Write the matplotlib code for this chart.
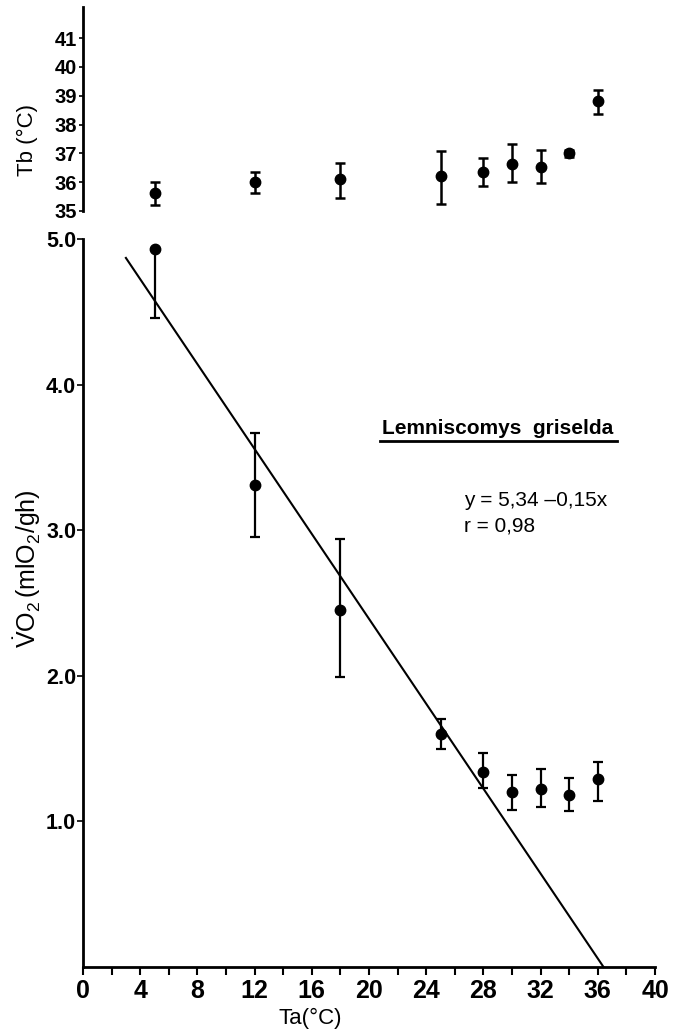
import matplotlib
matplotlib.use("Agg")
import matplotlib.pyplot as plt
import numpy as np

# ---- data ----
ta = [5, 12, 18, 25, 28, 30, 32, 34, 36]

tb = [35.63, 36.02, 36.10, 36.22, 36.36, 36.63, 36.54, 37.00, 38.83]
tb_low = [35.22, 35.61, 35.44, 35.24, 35.87, 36.02, 35.98, 36.88, 38.36]
tb_high = [36.00, 36.36, 36.65, 37.08, 36.84, 37.32, 37.10, 37.12, 39.20]

vo2 = [4.93, 3.31, 2.45, 1.60, 1.34, 1.20, 1.22, 1.18, 1.29]
vo2_low = [4.46, 2.95, 1.99, 1.50, 1.23, 1.08, 1.10, 1.07, 1.14]
vo2_high = [4.93, 3.67, 2.94, 1.70, 1.47, 1.32, 1.36, 1.30, 1.41]

line_x = [3.0, 36.4]
line_y = [4.87, 0.0]

x_ticks = list(range(0, 41, 2))
x_labels = [str(t) if t % 4 == 0 else "" for t in x_ticks]
tb_ticks = [35, 36, 37, 38, 39, 40, 41]
vo2_ticks = [1.0, 2.0, 3.0, 4.0, 5.0]
vo2_labels = ["1.0", "2.0", "3.0", "4.0", "5.0"]

FAM = ["Liberation Sans", "DejaVu Sans"]
plt.rcParams["font.family"] = FAM
plt.rcParams["mathtext.fontset"] = "custom"
plt.rcParams["mathtext.rm"] = "Liberation Sans"
plt.rcParams["mathtext.it"] = "Liberation Sans"
plt.rcParams["mathtext.bf"] = "Liberation Sans:bold"

W, H = 679, 1029
fig = plt.figure(figsize=(W / 100, H / 100), dpi=100)

left = 83 / W
width = (655 - 83) / W
ax_top = fig.add_axes([left, 1 - 211 / H, width, (211 - 7) / H])
ax = fig.add_axes([left, 1 - 967 / H, width, (967 - 239) / H])

# ---- top panel: Tb ----
tb_arr = np.array(tb)
ax_top.errorbar(ta, tb, yerr=[tb_arr - np.array(tb_low), np.array(tb_high) - tb_arr],
                fmt="o", color="black", markersize=7.5, elinewidth=1.8,
                capsize=3.5, capthick=1.8)
ax_top.set_xlim(0, 40)
ax_top.set_ylim(35, 42.08)
ax_top.set_yticks(tb_ticks)
ax_top.set_yticklabels([str(t) for t in tb_ticks], fontsize=14.5, fontweight="bold")
ax_top.set_xticks([])
for s in ["top", "right", "bottom"]:
    ax_top.spines[s].set_visible(False)
ax_top.spines["left"].set_linewidth(2.0)
ax_top.tick_params(axis="y", direction="out", length=3, width=1.2, pad=1)
ax_top.set_ylabel("Tb (°C)", fontsize=16)
ax_top.yaxis.set_label_coords(-0.078, (211 - 140) / 204)

# ---- bottom panel: VO2 ----
v_arr = np.array(vo2)
ax.errorbar(ta, vo2, yerr=[v_arr - np.array(vo2_low), np.array(vo2_high) - v_arr],
            fmt="o", color="black", markersize=7.5, elinewidth=1.6,
            capsize=3.5, capthick=1.6, zorder=3)
ax.plot(line_x, line_y, color="black", linewidth=1.5, clip_on=False)

ax.set_xlim(0, 40)
ax.set_ylim(0, 5.0)
ax.set_xticks(x_ticks)
ax.set_xticklabels(x_labels, fontsize=18, fontweight="bold")
ax.set_yticks(vo2_ticks)
ax.set_yticklabels(vo2_labels, fontsize=15.5, fontweight="bold")
for s in ["top", "right"]:
    ax.spines[s].set_visible(False)
ax.spines["left"].set_linewidth(2.0)
ax.spines["bottom"].set_linewidth(2.0)
ax.tick_params(axis="x", direction="out", length=6, width=1.5, pad=3)
ax.tick_params(axis="y", direction="out", length=4, width=1.2, pad=1)

ax.set_xlabel("Ta(°C)", fontsize=16)
ax.xaxis.set_label_coords((310 - 83) / 572, -0.056)
ax.set_ylabel(r"$\dot{\mathrm{V}}\mathrm{O_2\,(mlO_2/gh)}$", fontsize=18)
ax.yaxis.set_label_coords(-0.070, (967 - 569) / 728)

# ---- annotations ----
fig.text(382 / W, 1 - 428 / H, "Lemniscomys  griselda", fontsize=15,
         fontweight="bold", ha="left", va="center")
fig.add_artist(plt.Line2D([380 / W, 617 / W], [1 - 441 / H, 1 - 441 / H],
                          color="black", linewidth=2.0))
fig.text(464 / W, 1 - 500 / H, "y = 5,34 \u20130,15x", fontsize=15,
         ha="left", va="center")
fig.text(464 / W, 1 - 526 / H, "r = 0,98", fontsize=15, ha="left", va="center")

fig.savefig("out.png", dpi=100)
